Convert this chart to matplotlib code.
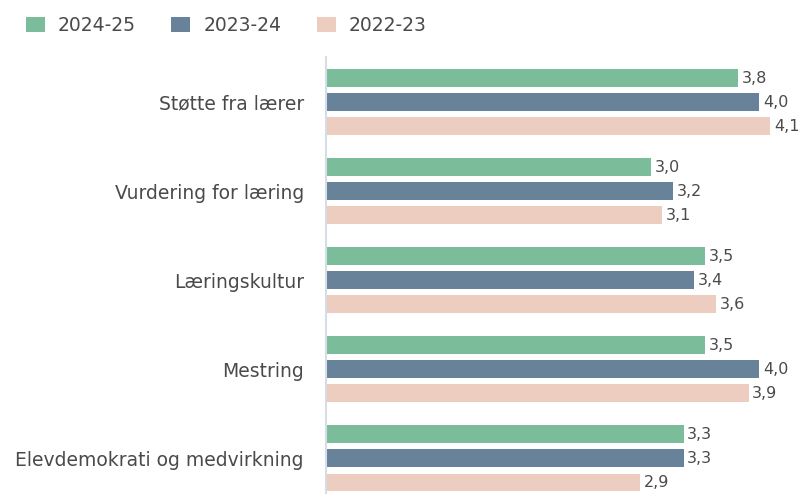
import numpy as np
import matplotlib.pyplot as plt

plt.rcParams['font.family'] = ['DejaVu Sans']

categories = ["Støtte fra lærer", "Vurdering for læring", "Læringskultur",
              "Mestring", "Elevdemokrati og medvirkning"]
years = ["2024-25", "2023-24", "2022-23"]
v_2024_25 = [3.8, 3.0, 3.5, 3.5, 3.3]
v_2023_24 = [4.0, 3.2, 3.4, 4.0, 3.3]
v_2022_23 = [4.1, 3.1, 3.6, 3.9, 2.9]
colors = ["#7bbd9a", "#688399", "#edcdbf"]

fig = plt.figure(figsize=(8.07, 4.94), dpi=100)
ax = fig.add_axes([326 / 807, 0, 481 / 807, 1 - 57 / 494])

y = np.arange(len(categories))
offsets = [-0.27, 0, 0.27]
for vals, off, col, lab in zip([v_2024_25, v_2023_24, v_2022_23], offsets, colors, years):
    bars = ax.barh(y + off, vals, height=0.2, color=col, label=lab)
    for b, v in zip(bars, vals):
        ax.text(v + 0.035, b.get_y() + b.get_height() / 2, f"{v:.1f}".replace(".", ","),
                va="center", ha="left", fontsize=11.5, color="#4a4a4a")

ax.set_xlim(0, 4.44)
ax.set_ylim(4.4, -0.506)
ax.set_yticks(y)
ax.set_yticklabels(categories, fontsize=13.5, color="#4a4a4a")
ax.tick_params(axis="y", length=0, pad=16)
ax.set_xticks([])
for s in ["top", "right", "bottom"]:
    ax.spines[s].set_visible(False)
ax.spines["left"].set_color("#d5dde6")
ax.spines["left"].set_linewidth(1.5)

fig.legend(loc="upper left", bbox_to_anchor=(9 / 807, 1 + 1 / 494), ncol=3, frameon=False,
           fontsize=13.5, handlelength=1.0, handleheight=0.9, handletextpad=0.7,
           columnspacing=1.9, labelcolor="#4a4a4a")

fig.savefig("out.png", dpi=100)
